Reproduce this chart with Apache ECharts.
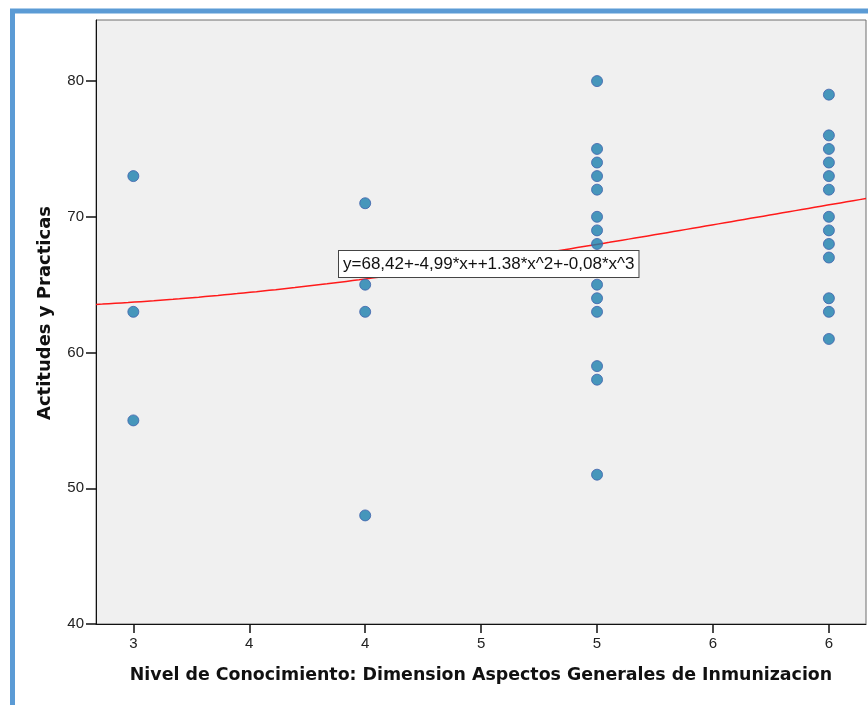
<!DOCTYPE html>
<html>
<head>
<meta charset="utf-8">
<script src="https://cdn.jsdelivr.net/npm/echarts@6/dist/echarts.min.js"></script>
<style>
  html, body { margin: 0; padding: 0; background: #ffffff; }
  #chart { width: 868px; height: 705px; }
</style>
</head>
<body>
<div id="chart"></div>
<script>
// Observations: knowledge level (x) and attitudes & practices score (y)
const xValues = [
  3, 3, 3,
  4, 4, 4, 4,
  5, 5, 5, 5, 5, 5, 5, 5, 5, 5, 5, 5, 5, 5,
  6, 6, 6, 6, 6, 6, 6, 6, 6, 6, 6, 6, 6
];
const yValues = [
  73, 63, 55,
  71, 65, 63, 48,
  80, 75, 74, 73, 72, 70, 69, 68, 65, 64, 63, 59, 58, 51,
  79, 76, 75, 74, 73, 72, 70, 69, 68, 67, 64, 63, 61
];

// Cubic fit: y = b0 + b1*x + b2*x^2 + b3*x^3
const fitCoefficients = [68.42, -4.99, 1.38, -0.08];
const fitLabel = 'y=68,42+-4,99*x++1.38*x^2+-0,08*x^3';

// Axis ticks
const xTickValues = [3, 3.5, 4, 4.5, 5, 5.5, 6];
const xTickLabels = ['3', '4', '4', '5', '5', '6', '6'];
const yTickValues = [40, 50, 60, 70, 80];

const xRange = [2.839, 6.16];
const yRange = [40, 84.5];

const points = xValues.map((x, i) => [x, yValues[i]]);

function fitAt(x) {
  return fitCoefficients.reduce((acc, c, k) => acc + c * Math.pow(x, k), 0);
}
const fitLine = [];
const steps = 120;
for (let i = 0; i <= steps; i++) {
  const x = xRange[0] + (xRange[1] - xRange[0]) * i / steps;
  fitLine.push([x, fitAt(x)]);
}

const chart = echarts.init(document.getElementById('chart'), null, { renderer: 'canvas' });

const tickFont = { fontFamily: 'Liberation Sans, Arial, sans-serif', fontSize: 15, color: '#222' };
const titleFont = { fontFamily: 'DejaVu Sans, sans-serif', fontSize: 17.4, fontWeight: 'bold', color: '#111' };

chart.setOption({
  animation: false,
  backgroundColor: '#ffffff',
  grid: {
    left: 96, top: 20, right: 2, bottom: 81,
    show: true,
    backgroundColor: '#f0f0f0',
    borderColor: '#6e6e6e',
    borderWidth: 1
  },
  xAxis: {
    type: 'value',
    min: xRange[0], max: xRange[1],
    name: 'Nivel de Conocimiento: Dimension Aspectos Generales de Inmunizacion',
    nameLocation: 'middle',
    nameGap: 43,
    nameTextStyle: titleFont,
    splitLine: { show: false },
    axisLine: { show: true, onZero: false, lineStyle: { color: '#111', width: 1 } },
    axisTick: { show: true, inside: false, length: 9, lineStyle: { color: '#111', width: 1.5 }, customValues: xTickValues },
    axisLabel: {
      ...tickFont,
      margin: 12,
      customValues: xTickValues,
      formatter: v => xTickLabels[xTickValues.findIndex(t => Math.abs(t - v) < 1e-6)] ?? ''
    }
  },
  yAxis: {
    type: 'value',
    min: yRange[0], max: yRange[1],
    name: 'Actitudes y Practicas',
    nameLocation: 'middle',
    nameGap: 42,
    nameTextStyle: { ...titleFont, fontSize: 18, padding: [0, 0, 0, 18] },
    splitLine: { show: false },
    axisLine: { show: true, onZero: false, lineStyle: { color: '#111', width: 1 } },
    axisTick: { show: true, inside: false, length: 10, lineStyle: { color: '#111', width: 1.5 }, customValues: yTickValues },
    axisLabel: { ...tickFont, margin: 12, customValues: yTickValues }
  },
  series: [
    {
      type: 'line',
      data: fitLine,
      showSymbol: false,
      smooth: false,
      lineStyle: { color: '#ff1a1a', width: 1.5 },
      z: 2
    },
    {
      type: 'scatter',
      data: points,
      symbolSize: 11,
      itemStyle: { color: '#1c7fae', borderColor: '#3f62ad', borderWidth: 1 },
      z: 3
    }
  ],
  graphic: [
    {
      type: 'rect',
      silent: true,
      shape: { x: 12.5, y: 11, width: 1200, height: 1200 },
      style: { fill: 'none', stroke: '#5b9bd5', lineWidth: 5 },
      z: 100
    },
    {
      type: 'text',
      left: 338,
      top: 250,
      z: 50,
      style: {
        text: fitLabel,
        fontFamily: 'Liberation Sans, Arial, sans-serif',
        fontSize: 17,
        fill: '#111',
        backgroundColor: '#ffffff',
        borderColor: '#444',
        borderWidth: 1,
        padding: [5, 4, 4, 4]
      }
    }
  ]
});
</script>
</body>
</html>
